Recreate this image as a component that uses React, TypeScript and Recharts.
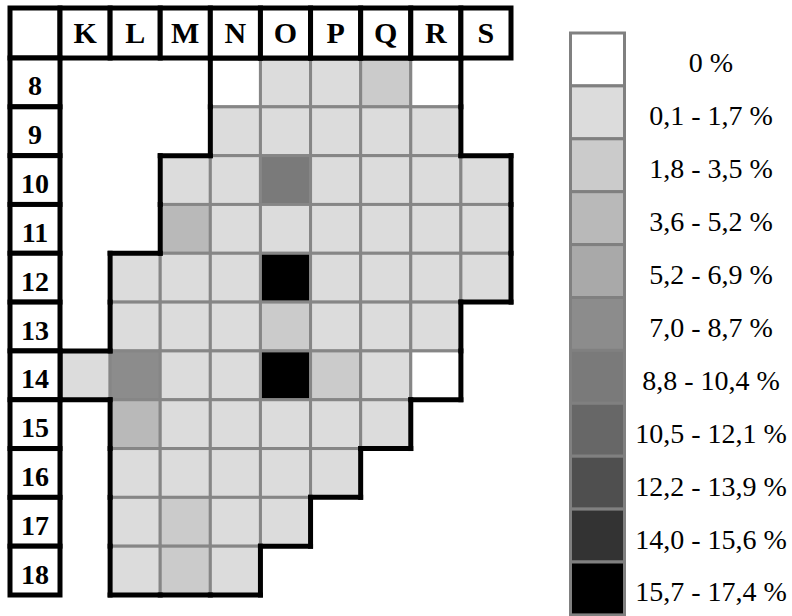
import React from 'react';
import { ScatterChart, Scatter, XAxis, YAxis, Legend } from 'recharts';

// ---- data ----
const columns = ['K', 'L', 'M', 'N', 'O', 'P', 'Q', 'R', 'S'];
const rowLabels = ['8', '9', '10', '11', '12', '13', '14', '15', '16', '17', '18'];

// share in % per cell (null = outside the area)
const row08 = [null, null, null, 0, 1.2, 1.0, 2.6, 0, null];
const row09 = [null, null, null, 0.8, 1.1, 1.3, 1.0, 0.9, null];
const row10 = [null, null, 1.0, 1.2, 9.6, 1.1, 1.4, 1.0, 0.7];
const row11 = [null, null, 4.4, 1.0, 1.5, 1.2, 1.3, 1.1, 0.8];
const row12 = [null, 0.9, 1.3, 1.4, 16.6, 1.2, 1.5, 1.0, 0.9];
const row13 = [null, 1.0, 1.4, 1.6, 2.7, 1.3, 1.1, 0.8, null];
const row14 = [0.6, 7.8, 1.5, 1.6, 17.1, 2.4, 1.2, 0, null];
const row15 = [null, 4.1, 1.3, 1.5, 1.4, 1.2, 0.9, null, null];
const row16 = [null, 1.4, 1.6, 1.5, 1.3, 1.0, null, null, null];
const row17 = [null, 1.2, 2.3, 1.4, 1.1, null, null, null, null];
const row18 = [null, 1.1, 2.2, 1.0, null, null, null, null, null];
const gridValues = [row08, row09, row10, row11, row12, row13, row14, row15, row16, row17, row18];

const legendLabels = [
  '0 %', '0,1 - 1,7 %', '1,8 - 3,5 %', '3,6 - 5,2 %', '5,2 - 6,9 %', '7,0 - 8,7 %',
  '8,8 - 10,4 %', '10,5 - 12,1 %', '12,2 - 13,9 %', '14,0 - 15,6 %', '15,7 - 17,4 %',
];
const legendUpper = [0, 1.7, 3.5, 5.2, 6.9, 8.7, 10.4, 12.1, 13.9, 15.6, 17.4];
const legendColors = [
  '#ffffff', '#dcdcdc', '#cbcbcb', '#b9b9b9', '#a9a9a9', '#8c8c8c',
  '#7a7a7a', '#676767', '#4f4f4f', '#333333', '#000000',
];

// ---- layout ----
const W = 792;
const H = 616;
const MARGIN = { top: 8, right: 281, bottom: 21, left: 10 };
const HEADER_H = 50;
const LABEL_W = 50;
const PLOT_W = W - MARGIN.left - MARGIN.right - LABEL_W;
const PLOT_H = H - MARGIN.top - MARGIN.bottom - HEADER_H;
const COL_W = PLOT_W / columns.length;
const ROW_H = PLOT_H / rowLabels.length;
const SERIF = "'Liberation Serif', 'Times New Roman', serif";
const GRID_GRAY = '#868686';

const cells: any[] = [];
gridValues.forEach((row, r) =>
  row.forEach((v, c) => {
    if (v !== null) cells.push({ x: c + 0.5, y: r + 0.5, value: v, r, c });
  })
);

const colorFor = (v: number) => {
  if (v <= 0) return legendColors[0];
  for (let i = 1; i < legendUpper.length; i++) {
    if (v <= legendUpper[i]) return legendColors[i];
  }
  return legendColors[legendColors.length - 1];
};

const isIn = (r: number, c: number) =>
  r >= 0 && r < gridValues.length && c >= 0 && c < columns.length && gridValues[r][c] !== null;

const CellShape = (props: any) => {
  const { cx, cy, payload } = props;
  return (
    <rect
      x={cx - COL_W / 2}
      y={cy - ROW_H / 2}
      width={COL_W}
      height={ROW_H}
      fill={colorFor(payload.value)}
      stroke={GRID_GRAY}
      strokeWidth={3}
    />
  );
};

const BorderShape = (props: any) => {
  const { cx, cy, payload } = props;
  const { r, c } = payload;
  const x0 = cx - COL_W / 2;
  const x1 = cx + COL_W / 2;
  const y0 = cy - ROW_H / 2;
  const y1 = cy + ROW_H / 2;
  const segs: number[][] = [];
  if (!isIn(r - 1, c)) segs.push([x0, y0, x1, y0]);
  if (!isIn(r + 1, c)) segs.push([x0, y1, x1, y1]);
  if (!isIn(r, c - 1)) segs.push([x0, y0, x0, y1]);
  if (!isIn(r, c + 1)) segs.push([x1, y0, x1, y1]);
  return (
    <g>
      {segs.map((s, i) => (
        <line key={i} x1={s[0]} y1={s[1]} x2={s[2]} y2={s[3]} stroke="#000" strokeWidth={5} strokeLinecap="square" />
      ))}
    </g>
  );
};

const HeaderTick = (props: any) => {
  const { x, payload, index } = props;
  const label = columns[Math.floor(payload.value)];
  const top = MARGIN.top;
  const left = x - COL_W / 2;
  return (
    <g>
      {index === 0 && (
        <rect x={MARGIN.left} y={top} width={left - MARGIN.left} height={HEADER_H} fill="#fff" stroke="#000" strokeWidth={5} />
      )}
      <rect x={left} y={top} width={COL_W} height={HEADER_H} fill="#fff" stroke="#000" strokeWidth={5} />
      <text x={x} y={top + HEADER_H / 2 + 10} textAnchor="middle" fontFamily={SERIF} fontWeight="bold" fontSize={30} fill="#000">
        {label}
      </text>
    </g>
  );
};

const RowTick = (props: any) => {
  const { y, payload } = props;
  const label = rowLabels[Math.floor(payload.value)];
  const left = MARGIN.left;
  return (
    <g>
      <rect x={left} y={y - ROW_H / 2} width={LABEL_W} height={ROW_H} fill="#fff" stroke="#000" strokeWidth={5} />
      <text x={left + LABEL_W / 2} y={y + 13} textAnchor="middle" fontFamily={SERIF} fontWeight="bold" fontSize={28} fill="#000">
        {label}
      </text>
    </g>
  );
};

const SW_TOP = 33;
const SW_H = 52.9;

const renderLegend = () => (
  <svg width={232} height={620} style={{ display: 'block', overflow: 'visible' }}>
    {legendColors.map((col, i) => (
      <rect key={'s' + i} x={10.5} y={SW_TOP + i * SW_H} width={54} height={SW_H} fill={col} stroke="#808080" strokeWidth={3} />
    ))}
    {legendLabels.map((t, i) => (
      <text
        key={'t' + i}
        x={151}
        y={SW_TOP + (i + 0.5) * SW_H + 13}
        textAnchor="middle"
        fontFamily={SERIF}
        fontSize={28}
        fill="#000"
      >
        {t}
      </text>
    ))}
  </svg>
);

export default function App() {
  return (
    <div style={{ position: 'absolute', left: 0, top: 0, width: W, height: H, background: '#fff' }}>
      <ScatterChart width={W} height={H} margin={MARGIN}>
        <XAxis
          dataKey="x"
          type="number"
          orientation="top"
          domain={[0, columns.length]}
          ticks={columns.map((_, i) => i + 0.5)}
          interval={0}
          height={HEADER_H}
          axisLine={false}
          tickLine={false}
          tick={<HeaderTick />}
        />
        <YAxis
          dataKey="y"
          type="number"
          reversed
          domain={[0, rowLabels.length]}
          ticks={rowLabels.map((_, i) => i + 0.5)}
          interval={0}
          width={LABEL_W}
          axisLine={false}
          tickLine={false}
          tick={<RowTick />}
        />
        <Legend
          layout="vertical"
          align="center"
          verticalAlign="middle"
          content={renderLegend}
          wrapperStyle={{ left: 560, top: 0, width: 232, height: 616 }}
        />
        <Scatter data={cells} isAnimationActive={false} shape={(p: any) => <CellShape {...p} />} />
        <Scatter data={cells} isAnimationActive={false} shape={(p: any) => <BorderShape {...p} />} />
      </ScatterChart>
    </div>
  );
}
